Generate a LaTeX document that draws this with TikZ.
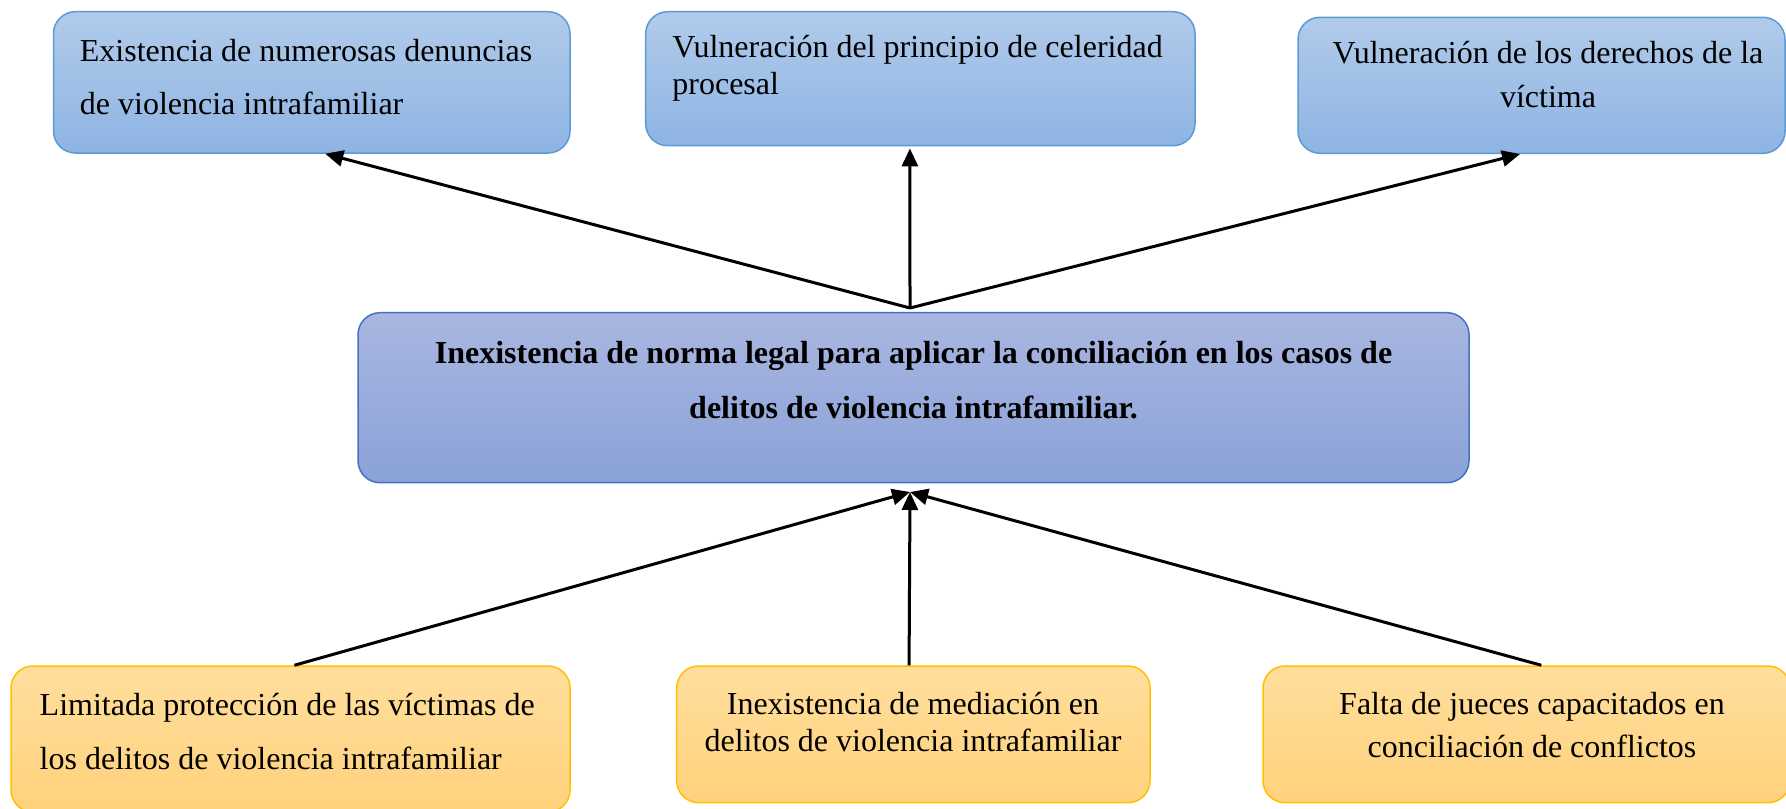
\documentclass[tikz,border=0pt]{standalone}
\usepackage{fontspec}
\setmainfont{Liberation Serif}
\usetikzlibrary{arrows.meta,calc}
\definecolor{bluetop}{HTML}{B1CBEA}
\definecolor{bluebot}{HTML}{8EB4E3}
\definecolor{blueline}{HTML}{5B9BD5}
\definecolor{centop}{HTML}{A9B6E0}
\definecolor{cenbot}{HTML}{8AA2D8}
\definecolor{cenline}{HTML}{4472C4}
\definecolor{yeltop}{HTML}{FFDE9D}
\definecolor{yelbot}{HTML}{FFD27C}
\definecolor{yelline}{HTML}{FFC000}
\tikzset{
  boxbase/.style={rounded corners=11pt, line width=0.75pt, inner sep=0pt, anchor=center},
  effectbox/.style={boxbase, draw=blueline, top color=bluetop, bottom color=bluebot},
  corebox/.style={boxbase, draw=cenline, top color=centop, bottom color=cenbot},
  causebox/.style={boxbase, draw=yelline, top color=yeltop, bottom color=yelbot},
  lbl/.style={inner sep=0pt, text=black},
  conn/.style={line width=1.5pt, -{Triangle[length=9pt,width=8pt]}},
}
\begin{document}
\begin{tikzpicture}[x=0.5pt,y=-0.5pt]
\useasboundingbox (0,0) rectangle (1786,808);
\clip (0,0) rectangle (1786,808);
% boxes
\node[effectbox, minimum width=258.25pt, minimum height=70.65pt] (tl) at (311.75,82.35) {};
\node[effectbox, minimum width=274.65pt, minimum height=67pt] (tm) at (920.35,78.7) {};
\node[effectbox, minimum width=243.5pt, minimum height=68pt] (tr) at (1541.5,85.3) {};
\node[corebox, minimum width=555.5pt, minimum height=85pt] (ce) at (913.5,397.7) {};
\node[causebox, minimum width=279.5pt, minimum height=73pt] (bl) at (290.5,739) {};
\node[causebox, minimum width=236.65pt, minimum height=68.35pt] (bm) at (913.35,734.35) {};
\node[causebox, minimum width=263.5pt, minimum height=68.35pt] (br) at (1526.5,734.35) {};
% texts (base anchor = baseline of last line)
\node[lbl, anchor=base west, align=left, font=\fontsize{16}{26.5}\selectfont] (tltext) at (79.5,114)
  {Existencia de numerosas denuncias\\de violencia intrafamiliar};
\node[lbl, anchor=base west, align=left, font=\fontsize{16}{18.5}\selectfont] (tmtext) at (672,95)
  {Vulneración del principio de celeridad\\procesal};
\node[lbl, anchor=base, align=center, font=\fontsize{16}{22}\selectfont] (trtext) at (1548,108)
  {Vulneración de los derechos de la\\víctima};
\node[lbl, anchor=base, align=center, font=\fontsize{16}{27.5}\selectfont\bfseries] (cetext) at (913.5,418)
  {Inexistencia de norma legal para aplicar la conciliación en los casos de\\delitos de violencia intrafamiliar.};
\node[lbl, anchor=base west, align=left, font=\fontsize{16}{27}\selectfont] (bltext) at (39.3,769)
  {Limitada protección de las víctimas de\\los delitos de violencia intrafamiliar};
\node[lbl, anchor=base, align=center, font=\fontsize{16}{18.5}\selectfont] (bmtext) at (913,751)
  {Inexistencia de mediación en\\delitos de violencia intrafamiliar};
\node[lbl, anchor=base, align=center, font=\fontsize{16}{21.5}\selectfont] (brtext) at (1532,757)
  {Falta de jueces capacitados en\\conciliación de conflictos};
% connector junctions
\coordinate (apex) at (910,308);
\coordinate (conv) at (910,492);
% effects
\draw[conn] (apex) -- ($(tl.south west)!0.526!(tl.south east)$);
\draw[conn] (apex) -- ($(tm.south west)!0.481!(tm.south east)+(0,2)$);
\draw[conn] (apex) -- ($(tr.south west)!0.456!(tr.south east)$);
% causes
\draw[conn] ($(bl.north west)!0.507!(bl.north east)$) -- (conv);
\draw[conn] ($(bm.north west)!0.491!(bm.north east)$) -- (conv);
\draw[conn] ($(br.north west)!0.528!(br.north east)$) -- (conv);
\end{tikzpicture}
\end{document}
